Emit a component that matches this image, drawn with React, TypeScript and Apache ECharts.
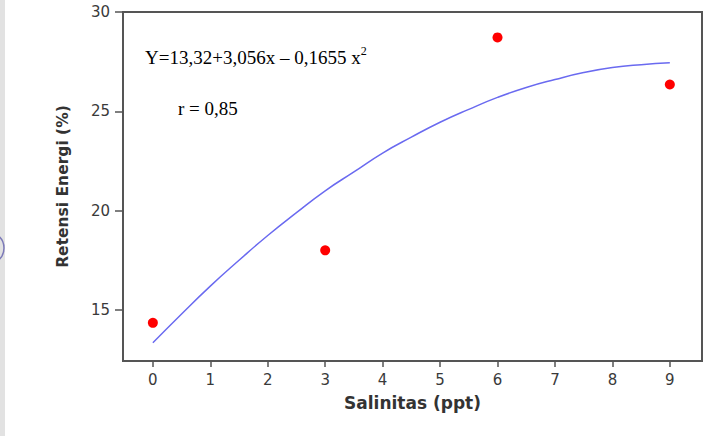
import React, { useEffect, useRef } from "react";
import * as echarts from "echarts";

const observedX = [0, 3, 6, 9];
const observedY = [14.35, 18.0, 28.72, 26.35];

const curveX = [0, 0.5, 1, 1.5, 2, 2.5, 3, 3.5, 4, 4.5, 5, 5.5, 6, 6.5, 7, 7.5, 8, 8.5, 9];
const curveY = [13.35, 14.8, 16.2, 17.5, 18.75, 19.9, 21.0, 21.95, 22.9, 23.7, 24.45, 25.1, 25.7, 26.2, 26.6, 26.95, 27.2, 27.35, 27.45];

const xTicks = [0, 1, 2, 3, 4, 5, 6, 7, 8, 9];
const yTicks = [15, 20, 25, 30];

export default function App() {
  const ref = useRef<HTMLDivElement>(null);
  useEffect(() => {
    if (!ref.current) return;
    const chart = echarts.init(ref.current, null, { renderer: "svg" });
    const axisText = { color: "#3a3a3a", fontSize: 15, fontFamily: "DejaVu Sans" };
    chart.setOption({
      animation: false,
      backgroundColor: "#ffffff",
      grid: { left: 123, top: 12, right: 10, bottom: 75, show: true, borderColor: "#555", borderWidth: 2 },
      xAxis: {
        type: "value",
        min: -0.52,
        max: 9.56,
        name: "Salinitas (ppt)",
        nameLocation: "middle",
        nameGap: 33,
        nameTextStyle: { fontFamily: "DejaVu Sans", fontWeight: "bold", fontSize: 17, color: "#333" },
        splitLine: { show: false },
        axisLine: { show: true, onZero: false, lineStyle: { color: "#555", width: 2 } },
        axisTick: { show: true, length: 6, customValues: xTicks, lineStyle: { color: "#555", width: 1.5 } },
        axisLabel: { ...axisText, margin: 11, customValues: xTicks },
      },
      yAxis: {
        type: "value",
        min: 12.43,
        max: 30,
        name: "Retensi Energi (%)",
        nameLocation: "middle",
        nameRotate: 90,
        nameGap: 52,
        nameTextStyle: { fontFamily: "DejaVu Sans", fontWeight: "bold", fontSize: 15.5, color: "#333" },
        splitLine: { show: false },
        axisLine: { show: true, onZero: false, lineStyle: { color: "#555", width: 2 } },
        axisTick: { show: true, length: 8, customValues: yTicks, lineStyle: { color: "#555", width: 1.5 } },
        axisLabel: { ...axisText, margin: 13, customValues: yTicks },
      },
      series: [
        {
          type: "line",
          data: curveX.map((x, i) => [x, curveY[i]]),
          smooth: true,
          showSymbol: false,
          lineStyle: { color: "#6a6af0", width: 1.5 },
        },
        {
          type: "scatter",
          data: observedX.map((x, i) => [x, observedY[i]]),
          symbolSize: 10,
          itemStyle: { color: "#ff0000", opacity: 1 },
        },
      ],
      graphic: [
        { type: "rect", shape: { x: 0, y: 0, width: 5, height: 436 }, style: { fill: "#e2e2e2" }, silent: true },
        { type: "circle", shape: { cx: -12, cy: 248, r: 16 }, style: { fill: "none", stroke: "#7c7ab8", lineWidth: 1.5 }, silent: true },
        {
          type: "text",
          left: 145,
          top: 45,
          style: {
            text: "{m|Y=13,32+3,056x – 0,1655 x}{s|2}",
            rich: {
              m: { fontFamily: "Liberation Serif", fontSize: 19, fill: "#000", verticalAlign: "bottom", lineHeight: 22 },
              s: { fontFamily: "Liberation Serif", fontSize: 12, fill: "#000", verticalAlign: "top", lineHeight: 22, padding: [0, 0, 8, 0] },
            },
          },
        },
        {
          type: "text",
          left: 178,
          top: 99,
          style: { text: "r = 0,85", fontFamily: "Liberation Serif", fontSize: 19, fill: "#000" },
        },
      ],
    });
    return () => chart.dispose();
  }, []);
  return <div ref={ref} style={{ position: "fixed", left: 0, top: 0, width: 712, height: 436 }} />;
}
